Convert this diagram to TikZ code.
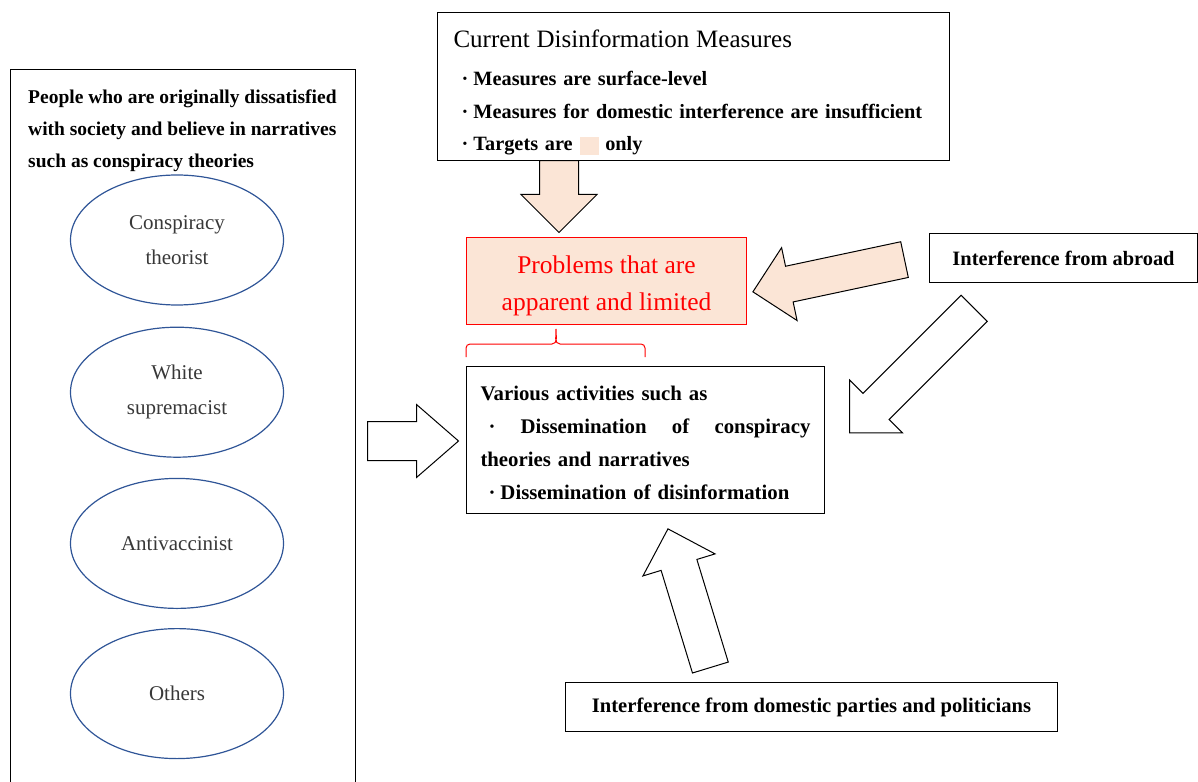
\documentclass[tikz,border=0pt]{standalone}
\usepackage{fontspec}
\setmainfont{Liberation Serif}
\usetikzlibrary{shapes.geometric,shapes.arrows,positioning,calc}
\definecolor{peach}{HTML}{FBE5D6}
\definecolor{ovalblue}{HTML}{2F5597}
\definecolor{probred}{HTML}{FF0000}
\newcommand{\dotitem}{\makebox[20pt][l]{\hspace{8pt}·}}
\begin{document}
\begin{tikzpicture}[x=1pt, y=1pt,
  box/.style={rectangle, draw, line width=1pt, inner sep=0pt, align=left},
  oval/.style={ellipse, draw=ovalblue, line width=1.2pt, minimum width=213pt, minimum height=130pt, align=center, text=black!78, font=\fontsize{21}{35}\selectfont},
  blockarr/.style={single arrow, draw, line width=1pt, inner xsep=0pt, single arrow tip angle=90, anchor=tail},
  brc/.style={draw=probred, line width=1pt}]
\useasboundingbox (0,0) rectangle (1198,-781);
% left column: groups of people
\node[box, anchor=north west, minimum width=345pt, minimum height=730pt] (people) at (10,-69) {};
\node[anchor=north west, align=left, inner sep=0pt, font=\fontsize{19.5}{32}\selectfont\bfseries] (peopletxt) at ($(people.north west)+(18,-20.5)$) {People who are originally dissatisfied\\with society and believe in narratives\\such as conspiracy theories};
\node[oval] (o1) at (177,-240) {Conspiracy\\theorist};
\node[oval, below=21pt of o1] (o2) {White\\supremacist};
\node[oval, below=20pt of o2] (o3) {Antivaccinist};
\node[oval, below=19pt of o3] (o4) {Others};
% measures and problems
\node[box, anchor=north west, minimum width=511pt, minimum height=148pt, text width=480pt, inner xsep=16pt, font=\fontsize{20.3}{32.5}\selectfont\bfseries] (measures) at (437,-12) {{\fontsize{25}{32.5}\selectfont\mdseries\rule{0pt}{29.6pt}Current Disinformation Measures}\\[5.5pt]
\dotitem Measures are surface-level\\
\dotitem Measures for domestic interference are insufficient\\
\dotitem Targets are \textcolor{peach}{\rule[-4pt]{19pt}{18pt}} only};
\node[box, draw=probred, fill=peach, anchor=north west, minimum width=280pt, minimum height=87pt, align=center, text=probred, font=\fontsize{25.5}{37}\selectfont] (problems) at (466,-237) {\rule{0pt}{27pt}Problems that are\\apparent and limited};
\node[box, anchor=north west, minimum width=357pt, minimum height=147pt, text width=330pt, inner xsep=14pt, font=\fontsize{20.8}{33}\selectfont\bfseries] (activities) at (466,-366) {\rule{0pt}{20.5pt}Various activities such as\\
\makebox[330pt][l]{\hspace{8pt}·\hfill Dissemination\hfill of\hfill conspiracy}\\
theories and narratives\\
\dotitem Dissemination of disinformation};
\draw[brc] ($(activities.north west)+(0,9)$) -- ++(0,9) arc[start angle=180, end angle=90, radius=4pt] -- ($(activities.north west)+(86,22)$) to[out=0, in=-90] ($(activities.north west)+(90,37)$) to[out=-90, in=180] ($(activities.north west)+(94,22)$) -- ($(activities.north west)+(175,22)$) arc[start angle=90, end angle=0, radius=4pt] -- ++(0,-9);
% sources of interference
\node[box, anchor=north west, minimum width=268pt, minimum height=49pt, align=center, font=\fontsize{20.4}{25}\selectfont\bfseries] (abroad) at (929,-233) {Interference from abroad};
\node[box, anchor=north west, minimum width=492pt, minimum height=49pt, align=center, font=\fontsize{20.6}{25}\selectfont\bfseries] (domestic) at (565,-682) {Interference from domestic parties and politicians};
% block arrows
\node[blockarr, fill=peach, rotate=-90, minimum height=72pt, inner ysep=19pt, single arrow head extend=18.5pt] (a1) at (559,-160) {};
\node[blockarr, fill=peach, rotate=192, minimum height=155pt, inner ysep=17.75pt, single arrow head extend=19pt] (a2) at (905,-259.5) {};
\node[blockarr, fill=white, rotate=225, minimum height=176pt, inner ysep=18pt, single arrow head extend=18.75pt] (a3) at (974.5,-308) {};
\node[blockarr, fill=white, minimum height=91pt, inner ysep=19pt, single arrow head extend=17pt, single arrow tip angle=82] (a4) at (367,-441) {};
\node[blockarr, fill=white, rotate=107, minimum height=145pt, inner ysep=18.2pt, single arrow head extend=19pt] (a5) at (710.5,-668) {};
\end{tikzpicture}
\end{document}
